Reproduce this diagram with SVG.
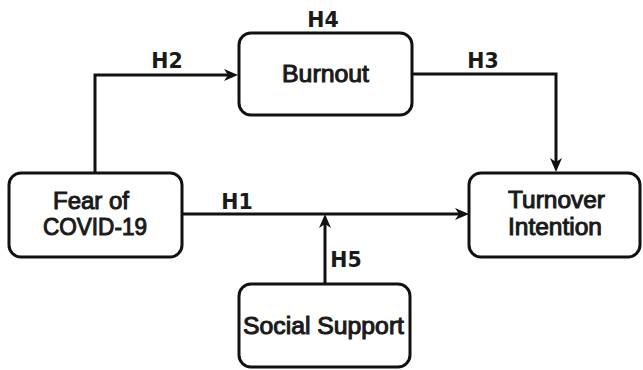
<svg xmlns="http://www.w3.org/2000/svg" width="643" height="370" viewBox="0 0 643 370">
<style>
.box{fill:#fff;stroke:#111;stroke-width:3}
.lbl{font-family:"Liberation Sans",Arial,sans-serif;font-size:23px;fill:#1a1a1a;stroke:#1a1a1a;stroke-width:1;text-anchor:middle}
.h{font-family:"DejaVu Sans",sans-serif;font-size:20.5px;font-weight:bold;fill:#1a1a1a;text-anchor:middle}
.c{fill:none;stroke:#111;stroke-width:3;marker-end:url(#ah)}
</style>
<defs>
<marker id="ah" markerUnits="userSpaceOnUse" markerWidth="14" markerHeight="12" viewBox="0 0 14 12" refX="6" refY="6" orient="auto">
<path d="M0,0 L14,6 L0,12 L4,6 z" fill="#111"/>
</marker>
</defs>
<rect width="643" height="370" fill="#fff"/>
<g id="connectors">
<path class="c" d="M95,172 V75 H230"/>
<path class="c" d="M412,74 H556 V164"/>
<path class="c" d="M182,214 H461"/>
<path class="c" d="M325,284 V222"/>
<text class="h" x="167" y="68">H2</text>
<text class="h" x="483" y="68">H3</text>
<text class="h" x="237" y="209">H1</text>
<text class="h" x="346" y="267">H5</text>
</g>
<g id="burnout">
<rect class="box" x="239" y="33" width="173" height="82" rx="12"/>
<text class="h" x="323" y="27">H4</text>
<text class="lbl" x="325.5" y="82" textLength="87" lengthAdjust="spacingAndGlyphs">Burnout</text>
</g>
<g id="fear">
<rect class="box" x="9" y="173" width="173" height="84" rx="12"/>
<text class="lbl" x="91" y="209" textLength="76" lengthAdjust="spacingAndGlyphs">Fear of</text>
<text class="lbl" x="95" y="235" textLength="104" lengthAdjust="spacingAndGlyphs">COVID-19</text>
</g>
<g id="turnover">
<rect class="box" x="469" y="173" width="171" height="84" rx="12"/>
<text class="lbl" x="556.5" y="208" textLength="97" lengthAdjust="spacingAndGlyphs">Turnover</text>
<text class="lbl" x="555" y="235" textLength="94" lengthAdjust="spacingAndGlyphs">Intention</text>
</g>
<g id="social">
<rect class="box" x="239" y="284" width="171" height="83" rx="12"/>
<text class="lbl" x="323.5" y="334" textLength="161" lengthAdjust="spacingAndGlyphs">Social Support</text>
</g>
</svg>
